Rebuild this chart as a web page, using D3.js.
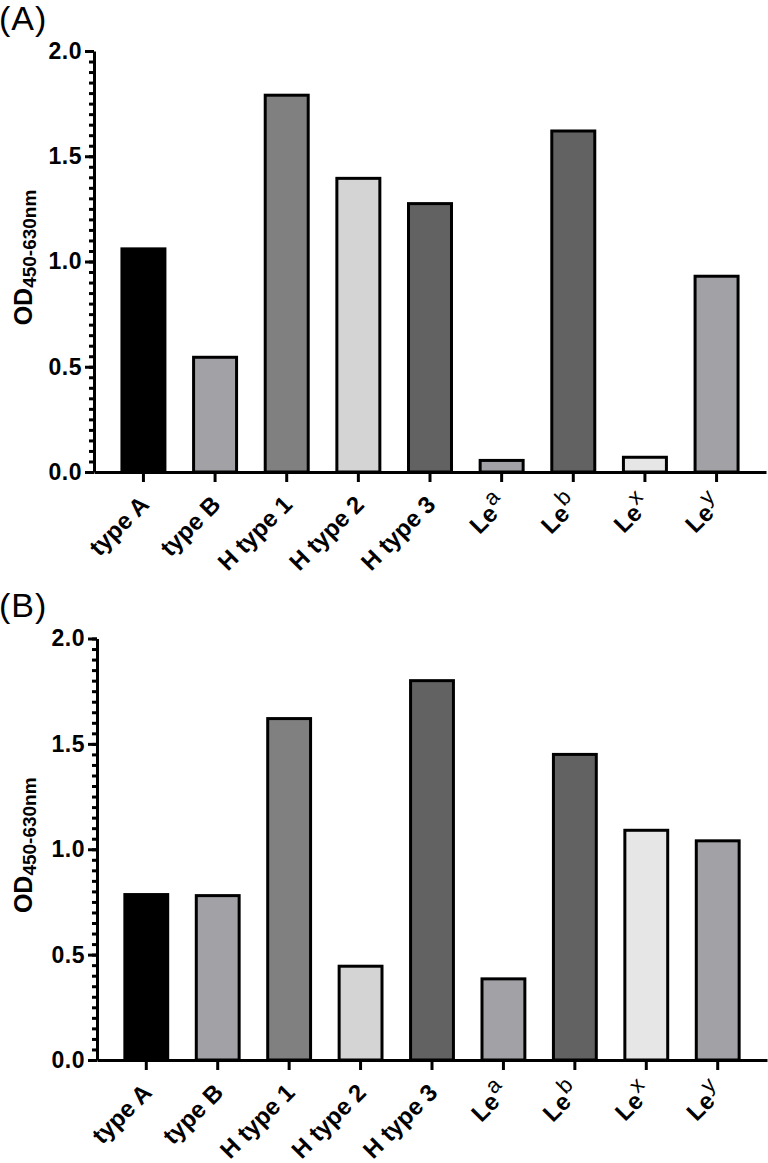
<!DOCTYPE html>
<html>
<head>
<meta charset="utf-8">
<script src="https://cdn.jsdelivr.net/npm/d3@7"></script>
<style>
  body { margin: 0; background: #fff; }
  svg { display: block; }
</style>
</head>
<body>
<script>
// categories, split into main text and superscript part
const catBase = ['type A', 'type B', 'H type 1', 'H type 2', 'H type 3', 'Le', 'Le', 'Le', 'Le']
const catSup = ['', '', '', '', '', 'a', 'b', 'x', 'y']
const valuesA = [1.06, 0.545, 1.79, 1.395, 1.275, 0.055, 1.62, 0.07, 0.93]
const valuesB = [0.785, 0.78, 1.62, 0.445, 1.80, 0.385, 1.45, 1.09, 1.04]
const barFills = ['#000000', '#a2a1a6', '#808080', '#d4d4d4', '#626262', '#a2a1a6', '#626262', '#e6e6e6', '#a2a1a6']
const yTicks = [0, 0.5, 1.0, 1.5, 2.0]
const yMinorTicks = d3.range(0, 2.0001, 0.05)

let width = 768
let height = 1163
let font = 'Liberation Sans, Arial, sans-serif'

let svg = d3.select('body')
  .append('svg')
  .attr('width', width)
  .attr('height', height)

function drawPanel (opts) {
  let g = svg.append('g')
  let idx = d3.range(catBase.length)

  let scaleX = d3.scaleBand()
    .domain(idx)
    .range([opts.x0, opts.x1])
    .paddingInner(0.4)
    .paddingOuter(0.39)

  let scaleY = d3.scaleLinear()
    .domain([0, 2])
    .range([opts.y0, opts.y1])

  // bars
  g.selectAll('rect')
    .data(opts.values)
    .enter()
    .append('rect')
    .attr('x', (d, i) => scaleX(i))
    .attr('width', scaleX.bandwidth())
    .attr('y', d => scaleY(d))
    .attr('height', d => scaleY(0) - scaleY(d))
    .attr('fill', (d, i) => barFills[i])
    .attr('stroke', '#000')
    .attr('stroke-width', 3)

  // minor y ticks
  let minor = g.append('g')
    .attr('transform', 'translate(' + opts.x0 + ',0)')
    .call(d3.axisLeft(scaleY).tickValues(yMinorTicks).tickSize(5).tickSizeOuter(0).tickFormat(''))
  minor.select('.domain').remove()

  // major y ticks
  let yAxis = g.append('g')
    .attr('transform', 'translate(' + opts.x0 + ',0)')
    .call(d3.axisLeft(scaleY).tickValues(yTicks).tickSize(9).tickSizeOuter(0).tickFormat(d3.format('.1f')).tickPadding(3))
  yAxis.selectAll('text')
    .attr('font-size', 23)
    .attr('font-weight', 'bold')
    .attr('font-family', font)
    .attr('letter-spacing', 0.5)
    .attr('fill', '#000')

  // x axis
  g.append('g')
    .attr('transform', 'translate(0,' + opts.y0 + ')')
    .call(d3.axisBottom(scaleX).tickSize(10).tickSizeOuter(0).tickFormat(''))

  g.selectAll('.domain, .tick line')
    .attr('stroke', '#000')
    .attr('stroke-width', 3)

  // x labels
  let labels = g.selectAll('.xlabel')
    .data(idx)
    .enter()
    .append('text')
    .attr('class', 'xlabel')
    .attr('text-anchor', 'end')
    .attr('font-family', font)
    .attr('font-size', 24)
    .attr('font-weight', 'bold')
    .attr('transform', i => 'translate(' + (scaleX(i) + scaleX.bandwidth() / 2 + 7) + ',' + (opts.y0 + 34) + ') rotate(-45)')
  labels.append('tspan').text(i => catBase[i])
  labels.filter(i => catSup[i] !== '')
    .append('tspan')
    .attr('font-weight', 'normal')
    .attr('font-size', 22)
    .attr('dx', 1)
    .attr('dy', -11)
    .text(i => catSup[i])

  // y label
  let ylab = g.append('text')
    .attr('transform', 'translate(32,' + ((opts.y0 + opts.y1) / 2 - 4) + ') rotate(-90)')
    .attr('text-anchor', 'middle')
    .attr('font-family', font)
    .attr('font-weight', 'bold')
    .attr('font-size', 25)
  ylab.append('tspan').text('OD')
  ylab.append('tspan').attr('font-size', 19).attr('dy', 4).text('450-630nm')

  // panel letter
  svg.append('text')
    .attr('x', -1)
    .attr('y', opts.labelY)
    .attr('font-family', font)
    .attr('font-size', 34)
    .attr('letter-spacing', 1)
    .text(opts.label)
}

drawPanel({ values: valuesA, x0: 94, x1: 766, y0: 472, y1: 51, label: '(A)', labelY: 30 })
drawPanel({ values: valuesB, x0: 97, x1: 767, y0: 1060, y1: 638.5, label: '(B)', labelY: 617 })
</script>
</body>
</html>
